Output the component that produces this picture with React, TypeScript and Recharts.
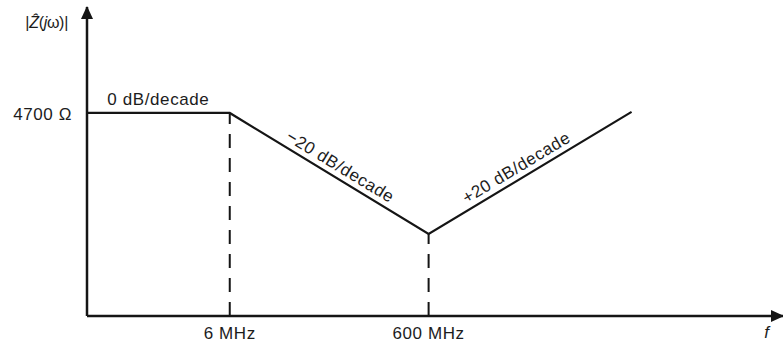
import React from 'react';
import { LineChart, Line, XAxis, YAxis, ReferenceLine, ReferenceDot } from 'recharts';

// ---- data ----
const frequencyMHz = [0.22, 6, 600, 66000];
const impedanceOhm = [4700, 4700, 47, 4900];
const breakIndices = [1, 2];
const xTickValues = [6, 600];
const xTickLabels = ['6 MHz', '600 MHz'];
const yTickValues = [4700];
const yTickLabels = ['4700 Ω'];
const slopeLabels = ['0 dB/decade', '−20 dB/decade', '+20 dB/decade'];

// ---- layout / style ----
const X_DOMAIN: [number, number] = [0.22, 2.2e6];
const Y_DOMAIN: [number, number] = [2.07, 265000];
const FONT = 'Liberation Sans, Arial, Helvetica, sans-serif';
const INK = '#151515';
const TEXT = '#1c1c1c';
const slopeStyle = [
  { angle: 0, dx: 0, dy: -8 },
  { angle: 31.3, dx: 6, dy: -6 },
  { angle: -31, dx: -9, dy: -6 },
];

const data = frequencyMHz.map((f, i) => ({ f, z: impedanceOhm[i] }));
const segments = slopeLabels.map((text, i) => ({
  text,
  f: Math.sqrt(frequencyMHz[i] * frequencyMHz[i + 1]),
  z: Math.sqrt(impedanceOhm[i] * impedanceOhm[i + 1]),
  ...slopeStyle[i],
}));

const textProps = { fontFamily: FONT, fontSize: 17, fill: TEXT, letterSpacing: 0.6 };

const XTick = (props: any) => {
  const idx = xTickValues.indexOf(props.payload.value);
  return (
    <text x={props.x} y={props.y + 21} textAnchor="middle" {...textProps}>
      {xTickLabels[idx]}
    </text>
  );
};

const YTick = (props: any) => {
  const idx = yTickValues.indexOf(props.payload.value);
  return (
    <text x={props.x - 13} y={props.y + 7} textAnchor="end" {...textProps}>
      {yTickLabels[idx]}
    </text>
  );
};

const YLabel = (props: any) => {
  const vb = props.viewBox || { x: 0, y: 7, width: 87 };
  return (
    <text x={vb.x + vb.width - 19} y={vb.y + 21} textAnchor="end" {...textProps} fontSize={16} letterSpacing={-0.3}>
      <tspan>|</tspan>
      <tspan fontStyle="italic">Ẑ</tspan>
      <tspan>(</tspan>
      <tspan fontStyle="italic">j</tspan>
      <tspan>ω)|</tspan>
    </text>
  );
};

const XLabel = (props: any) => {
  const vb = props.viewBox || { x: 87, y: 316, width: 696 };
  return (
    <text x={vb.x + vb.width - 16} y={vb.y + 22} textAnchor="middle" {...textProps} fontStyle="italic">
      f
    </text>
  );
};

const makeSlopeShape = (seg: any) => (p: any) => (
  <g transform={`translate(${p.cx},${p.cy}) rotate(${seg.angle})`}>
    <text x={seg.dx} y={seg.dy} textAnchor="middle" {...textProps}>
      {seg.text}
    </text>
  </g>
);

export default function App() {
  return (
    <div style={{ position: 'absolute', left: 0, top: 0, width: 783, height: 344, background: '#fff' }}>
      <LineChart width={783} height={344} data={data} margin={{ top: 7, right: 0, bottom: 0, left: 0 }}>
        <defs>
          <marker id="arrowHead" viewBox="0 0 13 12" refX="12" refY="6" markerWidth="13" markerHeight="12"
            markerUnits="userSpaceOnUse" orient="auto-start-reverse">
            <path d="M0,0 L13,6 L0,12 z" fill={INK} />
          </marker>
        </defs>
        <XAxis
          dataKey="f"
          type="number"
          scale="log"
          domain={X_DOMAIN}
          allowDataOverflow
          ticks={xTickValues}
          interval={0}
          height={28}
          tickSize={0}
          tickLine={false}
          axisLine={{ stroke: INK, strokeWidth: 2.5, markerEnd: 'url(#arrowHead)' } as any}
          tick={<XTick />}
          label={{ content: <XLabel /> } as any}
        />
        <YAxis
          type="number"
          scale="log"
          domain={Y_DOMAIN}
          allowDataOverflow
          ticks={yTickValues}
          interval={0}
          width={87}
          tickSize={0}
          tickLine={false}
          axisLine={{ stroke: INK, strokeWidth: 2.5, markerStart: 'url(#arrowHead)' } as any}
          tick={<YTick />}
          label={{ content: <YLabel /> } as any}
        />
        {breakIndices.map((i) => (
          <ReferenceLine
            key={i}
            segment={[
              { x: frequencyMHz[i], y: Y_DOMAIN[0] },
              { x: frequencyMHz[i], y: impedanceOhm[i] },
            ]}
            stroke={INK}
            strokeWidth={2}
            strokeDasharray="14 10"
          />
        ))}
        <Line
          type="linear"
          dataKey="z"
          stroke={INK}
          strokeWidth={2.2}
          dot={false}
          activeDot={false}
          isAnimationActive={false}
          strokeLinejoin="miter"
        />
        {segments.map((s, i) => (
          <ReferenceDot key={i} x={s.f} y={s.z} r={0} shape={makeSlopeShape(s)} />
        ))}
      </LineChart>
    </div>
  );
}
